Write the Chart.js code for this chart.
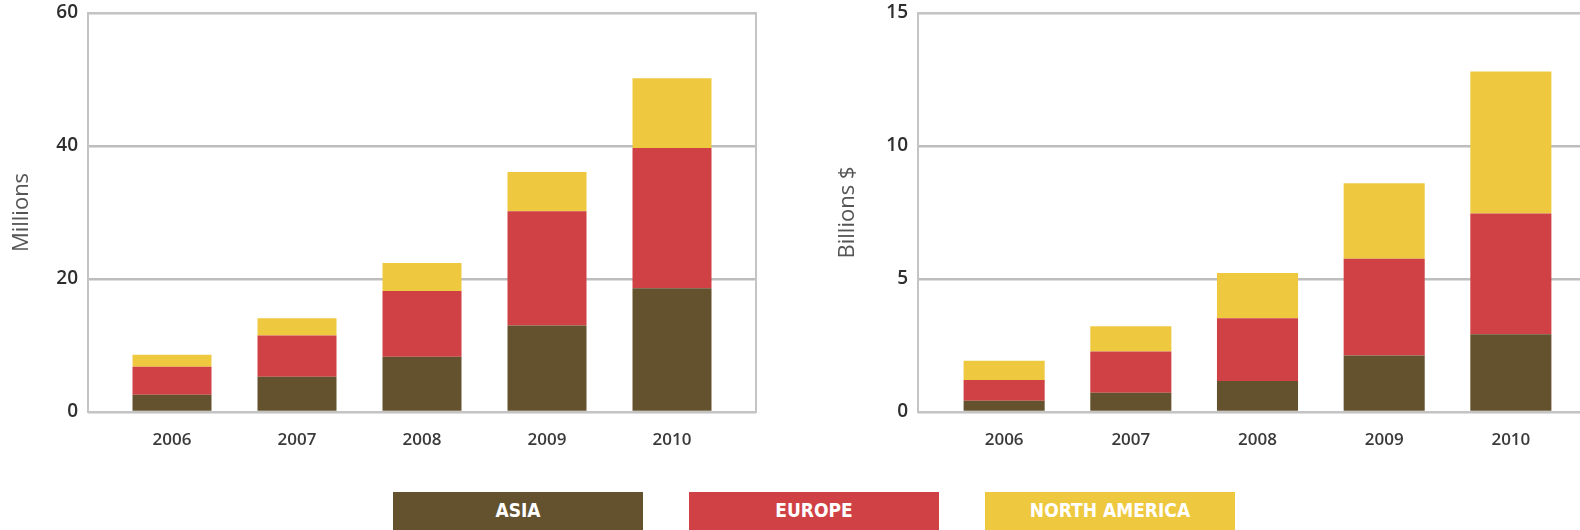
<!DOCTYPE html>
<html>
<head>
<meta charset="utf-8">
<script src="https://cdn.jsdelivr.net/npm/chart.js@4/dist/chart.umd.min.js"></script>
<style>
  html, body { margin: 0; padding: 0; background: #fff; }
  body { position: relative; width: 1580px; height: 530px; overflow: hidden; }
  .panel { position: absolute; top: 0; height: 460px; }
  #leftPanel { left: 0; width: 770px; }
  #rightPanel { left: 826px; width: 780px; }
  #legend { position: absolute; left: 393px; top: 492px; display: flex; gap: 46px; }
  .key {
    width: 250px; height: 40px; color: #fff; text-align: center;
    font: bold 19px "DejaVu Sans Condensed", "DejaVu Sans", sans-serif;
    line-height: 36px;
  }
</style>
</head>
<body>
<div class="panel" id="leftPanel"><canvas id="usersChart"></canvas></div>
<div class="panel" id="rightPanel"><canvas id="revenueChart"></canvas></div>
<div id="legend"></div>
<script>
const years = [2006, 2007, 2008, 2009, 2010];
const yearLabels = ["2006", "2007", "2008", "2009", "2010"];
const regions = ["ASIA", "EUROPE", "NORTH AMERICA"];
const regionColors = ["#64522f", "#cf4145", "#eec940"];

// left panel, millions
const usersAsia = [2.6, 5.3, 8.3, 13.0, 18.6];
const usersEurope = [4.2, 6.2, 9.9, 17.2, 21.1];
const usersNorthAmerica = [1.8, 2.6, 4.2, 5.9, 10.5];
const usersTicks = [0, 20, 40, 60];

// right panel, billions $
const revenueAsia = [0.42, 0.72, 1.17, 2.12, 2.92];
const revenueEurope = [0.78, 1.55, 2.35, 3.64, 4.54];
const revenueNorthAmerica = [0.73, 0.95, 1.71, 2.84, 5.34];
const revenueTicks = [0, 5, 10, 15];

// box round the plot area
const frame = {
  id: "frame",
  beforeDatasetsDraw(chart) {
    const { ctx, chartArea: a } = chart;
    ctx.save();
    ctx.strokeStyle = "#c4c4c4";
    ctx.lineWidth = 2;
    ctx.strokeRect(a.left, a.top, a.right - a.left, a.bottom - a.top);
    ctx.restore();
  },
};

function makeChart(id, series, ticks, title, axisWidth, xMin, xMax, padRight, barPct) {
  const datasets = series.map((values, i) => ({
    label: regions[i],
    data: values.map((v, j) => ({ x: years[j], y: v })),
    backgroundColor: regionColors[i],
    categoryPercentage: 1,
    barPercentage: barPct,
  }));

  return new Chart(document.getElementById(id), {
    type: "bar",
    data: { datasets },
    plugins: [frame],
    options: {
      responsive: true,
      maintainAspectRatio: false,
      animation: false,
      layout: { padding: { top: 13, right: padRight, left: 0, bottom: 0 } },
      plugins: { legend: { display: false }, tooltip: { enabled: false } },
      scales: {
        x: {
          type: "linear",
          offset: false,
          stacked: true,
          min: xMin,
          max: xMax,
          grid: { display: false },
          border: { display: false },
          ticks: {
            stepSize: 1,
            includeBounds: false,
            autoSkip: false,
            maxRotation: 0,
            padding: 10,
            color: "#3a3a3a",
            font: { family: "Open Sans", size: 17, weight: "600" },
            callback: (v) => yearLabels[years.indexOf(v)] ?? "",
          },
          afterFit: (s) => { s.height = 48; s.paddingLeft = 0; s.paddingRight = 0; },
        },
        y: {
          stacked: true,
          min: ticks[0],
          max: ticks[ticks.length - 1],
          grid: { color: "#bdbdbd", lineWidth: 2.5, drawTicks: false },
          border: { display: false },
          ticks: {
            stepSize: ticks[1] - ticks[0],
            padding: 10,
            color: "#2e2e2e",
            font: { family: "Open Sans", size: 19, weight: "600" },
          },
          title: {
            display: true,
            text: title,
            color: "#555",
            font: { family: "Open Sans", size: 22 },
            padding: { top: 9, bottom: 0 },
          },
          afterFit: (s) => { s.width = axisWidth; s.paddingTop = 0; s.paddingBottom = 0; },
        },
      },
    },
  });
}

makeChart("usersChart", [usersAsia, usersEurope, usersNorthAmerica], usersTicks,
  "Millions", 88, 2005.328, 2010.672, 14, 0.632);
makeChart("revenueChart", [revenueAsia, revenueEurope, revenueNorthAmerica], revenueTicks,
  "Billions $", 92, 2005.32, 2010.68, 9, 0.64);

const legend = document.getElementById("legend");
regions.forEach((name, i) => {
  const d = document.createElement("div");
  d.className = "key";
  d.style.background = regionColors[i];
  d.textContent = name;
  legend.appendChild(d);
});
</script>
</body>
</html>
